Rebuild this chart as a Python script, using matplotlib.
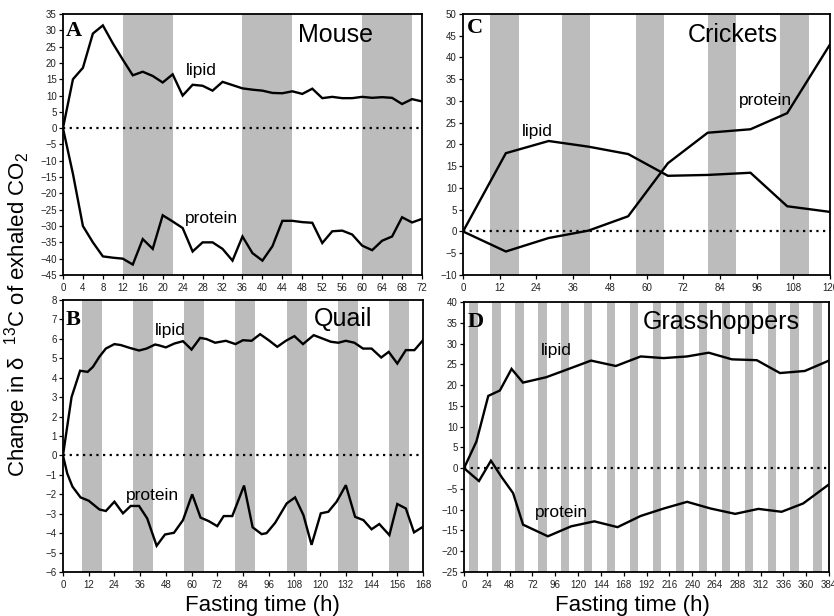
import matplotlib
matplotlib.use("Agg")
import matplotlib.pyplot as plt

plt.rcParams['font.family'] = ['Liberation Sans', 'DejaVu Sans']
plt.rcParams['mathtext.fontset'] = 'custom'
plt.rcParams['mathtext.rm'] = 'Liberation Sans'
plt.rcParams['mathtext.it'] = 'Liberation Sans:italic'
plt.rcParams['mathtext.bf'] = 'Liberation Sans:bold'

# ---------------- Data ----------------
# A: Mouse
mouse_t = [0, 2, 4, 6, 8, 10, 12, 14, 16, 18, 20, 22, 24, 26, 28, 30, 32, 34, 36, 38,
           40, 42, 44, 46, 48, 50, 52, 54, 56, 58, 60, 62, 64, 66, 68, 70, 72]
mouse_lipid = [0, 15, 18.5, 29, 31.5, 26, 21, 16.2, 17.3, 16, 14, 16.5, 10, 13.3, 13, 11.5,
               14.2, 13.2, 12.2, 11.8, 11.5, 10.8, 10.7, 11.3, 10.5, 12.1, 9.2, 9.6, 9.2,
               9.2, 9.6, 9.3, 9.5, 9.3, 7.4, 8.9, 8.2]
mouse_protein = [0, -14, -30, -35, -39.3, -39.7, -40, -41.8, -34, -37, -26.7, -28.6, -30.6,
                 -37.8, -35, -35, -37, -40.6, -33.2, -38.3, -40.6, -36.2, -28.4, -28.4,
                 -28.8, -29, -35.2, -31.6, -31.4, -32.6, -36, -37.4, -34.5, -33.2, -27.3,
                 -28.9, -27.8]
mouse_bands = [(12, 22), (36, 46), (60, 70)]

# B: Quail
quail_lipid_t = [0, 4, 8, 11.5, 14, 17, 20, 24, 27, 31, 35.5, 39, 43, 45, 48, 52, 56, 60,
                 64, 67, 71, 76, 80.5, 84, 88, 92, 96, 100, 104, 108, 112, 117, 121, 125,
                 128.5, 132, 136, 140, 144, 148.5, 152, 156, 160, 164, 168]
quail_lipid = [0, 3.0, 4.36, 4.3, 4.56, 5.08, 5.5, 5.73, 5.68, 5.54, 5.4, 5.5, 5.71, 5.66,
               5.56, 5.76, 5.88, 5.45, 6.05, 5.99, 5.8, 5.9, 5.73, 5.93, 5.9, 6.24, 5.93,
               5.59, 5.9, 6.14, 5.73, 6.19, 6.02, 5.85, 5.8, 5.9, 5.8, 5.5, 5.5, 5.04,
               5.33, 4.73, 5.42, 5.42, 5.93]
quail_protein_t = [0, 2, 4.4, 8.2, 12, 17, 20, 24, 28, 31.6, 35.5, 39.3, 43.7, 47.6, 51.8,
                   56, 60.3, 64.2, 68, 72, 75, 79, 84.5, 88.5, 92.7, 95, 99, 104.4, 108.3,
                   112.2, 116, 120.3, 123.8, 127.7, 132, 136.3, 140.2, 144, 147.6, 152.3,
                   156, 160, 163.8, 168]
quail_protein = [0, -0.93, -1.6, -2.16, -2.33, -2.78, -2.86, -2.38, -2.98, -2.6, -2.6,
                 -3.24, -4.65, -4.07, -3.98, -3.33, -2.0, -3.2, -3.38, -3.64, -3.12, -3.12,
                 -1.55, -3.7, -4.05, -4.0, -3.47, -2.47, -2.16, -3.07, -4.6, -2.98, -2.9,
                 -2.38, -1.53, -3.16, -3.33, -3.8, -3.53, -4.1, -2.5, -2.73, -3.96, -3.67]
quail_band_start = [8.8, 32.8, 56.6, 80.4, 104.4, 128.5, 152.1]
quail_band_end = [18.0, 41.9, 65.9, 89.7, 113.7, 137.5, 161.5]

# C: Crickets
cricket_t = [0, 14, 28, 41, 54, 67, 80, 94, 106, 120]
cricket_lipid = [0, 18, 20.8, 19.5, 17.8, 12.8, 13.0, 13.5, 5.8, 4.5]
cricket_protein = [0, -4.6, -1.5, 0.2, 3.5, 15.7, 22.7, 23.5, 27.2, 43]
cricket_bands = [(8.8, 18.2), (32.4, 41.5), (56.6, 65.6), (80.1, 89.3), (103.7, 113)]

# D: Grasshoppers
grass_lipid_t = [0, 13, 25.5, 37.7, 50, 62, 86.5, 109, 133.6, 159.7, 185.9, 210, 234.7,
                 257.4, 281.8, 308, 332.4, 358.5, 384]
grass_lipid = [0, 6.4, 17.4, 18.7, 23.9, 20.6, 21.9, 23.8, 25.9, 24.6, 26.9, 26.5, 26.9,
               27.8, 26.2, 26, 22.9, 23.4, 25.9]
grass_protein_t = [0, 15.7, 28.3, 40, 51.6, 62.1, 88.2, 112.7, 137.1, 161.5, 185.9, 210.3,
                   234.7, 259.2, 285.3, 309.7, 334.1, 356.8, 384]
grass_protein = [0, -3.1, 1.8, -2.3, -6, -13.6, -16.4, -14, -12.8, -14.2, -11.5, -9.7, -8.1,
                 -9.7, -11, -9.8, -10.5, -8.5, -3.9]
grass_band_start = [5.3, 29.4, 53.6, 77.8, 101.9, 126.1, 150.2, 174.4, 198.5, 222.7, 246.8,
                    271.0, 295.1, 319.3, 343.4, 367.6]
grass_band_width = 9

# ---------------- Figure ----------------
fig = plt.figure(figsize=(8.34, 6.16), dpi=100)
axA = fig.add_axes([0.0755, 0.5536, 0.4305, 0.4237])
axC = fig.add_axes([0.5552, 0.5536, 0.4400, 0.4237])
axB = fig.add_axes([0.0755, 0.0714, 0.4317, 0.4416])
axD = fig.add_axes([0.5564, 0.0714, 0.4376, 0.4383])

band_color = '#bcbcbc'
line_kw = dict(color='black', lw=1.7, solid_joinstyle='miter', zorder=3)
tick_color = '#222222'


def style(ax, xlim, ylim, xticks, yticks):
    ax.set_xlim(*xlim)
    ax.set_ylim(*ylim)
    ax.set_xticks(xticks)
    ax.set_yticks(yticks)
    ax.tick_params(axis='both', direction='out', length=3, width=0.9, labelsize=7,
                   labelcolor=tick_color, pad=1.5)
    ax.tick_params(axis='x', pad=3)
    for s in ax.spines.values():
        s.set_linewidth(1.3)
        s.set_color('black')
    ax.axhline(0, color='black', lw=1.6, ls=(0, (1, 2)), zorder=2)


def tlabel(ax, x, y, s, size=12.5):
    ax.text(x, y, s, fontsize=size, ha='center', va='center', zorder=4)


def letter(ax, x, y, s):
    ax.text(x, y, s, transform=ax.transAxes, fontsize=16, ha='left', va='center',
            family='Liberation Serif', weight='bold')


def title(ax, x, y, s):
    ax.text(x, y, s, transform=ax.transAxes, fontsize=18, ha='center', va='center')


# A
for a, b in mouse_bands:
    axA.axvspan(a, b, color=band_color, lw=0, zorder=1)
axA.plot(mouse_t, mouse_lipid, **line_kw)
axA.plot(mouse_t, mouse_protein, **line_kw)
style(axA, (0, 72), (-45, 35), range(0, 73, 4), range(-45, 36, 5))
tlabel(axA, 27.8, 17.8, 'lipid')
tlabel(axA, 29.8, -27.6, 'protein')
title(axA, 0.758, 0.92, 'Mouse')
letter(axA, 0.008, 0.935, 'A')

# C
for a, b in cricket_bands:
    axC.axvspan(a, b, color=band_color, lw=0, zorder=1)
axC.plot(cricket_t, cricket_lipid, **line_kw)
axC.plot(cricket_t, cricket_protein, **line_kw)
style(axC, (0, 120), (-10, 50), range(0, 121, 12), range(-10, 51, 5))
tlabel(axC, 24.3, 22.9, 'lipid')
tlabel(axC, 98.8, 30.2, 'protein')
title(axC, 0.736, 0.92, 'Crickets')
letter(axC, 0.01, 0.945, 'C')

# B
for a, b in zip(quail_band_start, quail_band_end):
    axB.axvspan(a, b, color=band_color, lw=0, zorder=1)
axB.plot(quail_lipid_t, quail_lipid, **line_kw)
axB.plot(quail_protein_t, quail_protein, **line_kw)
style(axB, (0, 168), (-6, 8), range(0, 169, 12), range(-6, 9, 1))
tlabel(axB, 50.3, 6.45, 'lipid')
tlabel(axB, 41.8, -2.04, 'protein')
title(axB, 0.777, 0.929, 'Quail')
letter(axB, 0.008, 0.926, 'B')

# D
for a in grass_band_start:
    axD.axvspan(a, a + grass_band_width, color=band_color, lw=0, zorder=1)
axD.plot(grass_lipid_t, grass_lipid, **line_kw)
axD.plot(grass_protein_t, grass_protein, **line_kw)
style(axD, (0, 384), (-25, 40), range(0, 385, 24), range(-25, 41, 5))
tlabel(axD, 97.5, 28.4, 'lipid')
tlabel(axD, 102.8, -10.7, 'protein')
title(axD, 0.706, 0.927, 'Grasshoppers')
letter(axD, 0.01, 0.927, 'D')

# Shared labels
fig.text(262 / 834, 1 - 605 / 616, 'Fasting time (h)', fontsize=16, ha='center', va='center')
fig.text(632 / 834, 1 - 605 / 616, 'Fasting time (h)', fontsize=16, ha='center', va='center')
fig.text(18 / 834, 1 - 314 / 616, 'Change in δ  $^{13}$C of exhaled CO$_2$', fontsize=16,
         rotation=90, ha='center', va='center')

fig.savefig('out.png', dpi=100)
